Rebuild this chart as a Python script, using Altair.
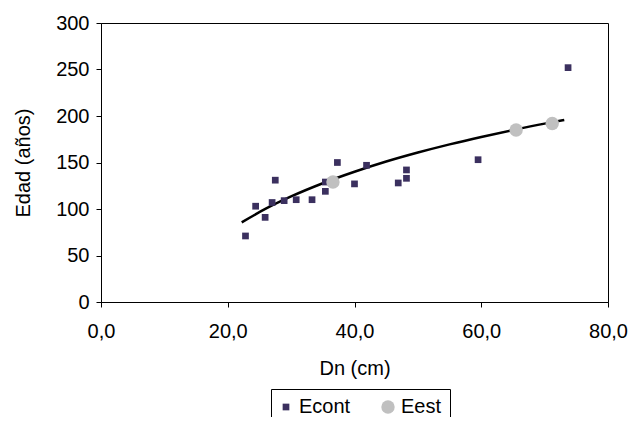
import altair as alt
import pandas as pd

econt_dn = [22.8, 24.4, 25.9, 27.5, 27.0, 28.9, 30.8, 33.3, 35.4, 35.4, 37.3, 40.0, 41.9, 46.9, 48.2, 48.2, 59.5, 73.7]
econt_edad = [71, 103, 91, 131, 107, 109, 110, 110, 119, 129, 150, 127, 147, 128, 133, 142, 153, 252]
eest_dn = [36.6, 65.5, 71.2]
eest_edad = [129, 185, 192]
trend_dn = [22.2, 26.0, 30.0, 35.0, 40.0, 45.0, 50.0, 55.0, 60.0, 65.0, 70.0, 73.1]
trend_edad = [85.7, 100.3, 113.5, 127.7, 140.0, 151.0, 160.7, 169.5, 177.5, 184.9, 191.8, 195.7]

pts = pd.DataFrame({
    "Dn": econt_dn + eest_dn,
    "Edad": econt_edad + eest_edad,
    "Serie": ["Econt"] * len(econt_dn) + ["Eest"] * len(eest_dn),
})
trend = pd.DataFrame({"Dn": trend_dn, "Edad": trend_edad})

FONT = "Liberation Sans"
FS = 20

x_scale = alt.Scale(domain=[0, 80], nice=False, zero=False)
y_scale = alt.Scale(domain=[0, 300], nice=False)

x_axis = alt.Axis(
    title="Dn (cm)", values=[0, 20, 40, 60, 80], grid=False,
    labelExpr="replace(format(datum.value, '.1f'), '.', ',')",
    tickColor="black", domainColor="black", tickSize=5,
    labelColor="black", titleColor="black", labelFontSize=FS, titleFontSize=FS,
    labelFont=FONT, titleFont=FONT, titleFontWeight="normal", labelPadding=14,
    titlePadding=17, labelFlush=False,
)
y_axis = alt.Axis(
    title="Edad (años)", values=[0, 50, 100, 150, 200, 250, 300], grid=False,
    tickColor="black", domainColor="black", tickSize=5,
    labelColor="black", titleColor="black", labelFontSize=FS, titleFontSize=FS,
    labelFont=FONT, titleFont=FONT, titleFontWeight="normal", labelPadding=7,
    titlePadding=22, labelFlush=False,
)

points = alt.Chart(pts).mark_point(filled=True, opacity=1).encode(
    x=alt.X("Dn:Q", scale=x_scale, axis=x_axis),
    y=alt.Y("Edad:Q", scale=y_scale, axis=y_axis),
    color=alt.Color("Serie:N", scale=alt.Scale(domain=["Econt", "Eest"], range=["#3b305f", "#c0c0c0"]), title=None),
    shape=alt.Shape("Serie:N", scale=alt.Scale(domain=["Econt", "Eest"], range=["square", "circle"]), title=None),
    size=alt.Size("Serie:N", scale=alt.Scale(domain=["Econt", "Eest"], range=[45, 180]), title=None),
)

line = alt.Chart(trend).mark_line(color="black", strokeWidth=2.5, interpolate="monotone").encode(
    x=alt.X("Dn:Q", scale=x_scale),
    y=alt.Y("Edad:Q", scale=y_scale),
)

chart = alt.layer(line, points).properties(
    width=507, height=279,
    autosize=alt.AutoSizeParams(type="none"),
    padding={"left": 93, "top": 15, "right": 24, "bottom": 115},
).configure_view(
    stroke="black", strokeWidth=1,
).configure_legend(
    orient="none", legendX=170, legendY=366, direction="horizontal",
    strokeColor="black", fillColor="white", padding=8,
    labelFontSize=FS, labelFont=FONT, labelColor="black",
    columnPadding=30, labelOffset=3, symbolOffset=-3, symbolStrokeWidth=0,
)

chart.save("out.html", embed_options={"renderer": "svg", "actions": False})
